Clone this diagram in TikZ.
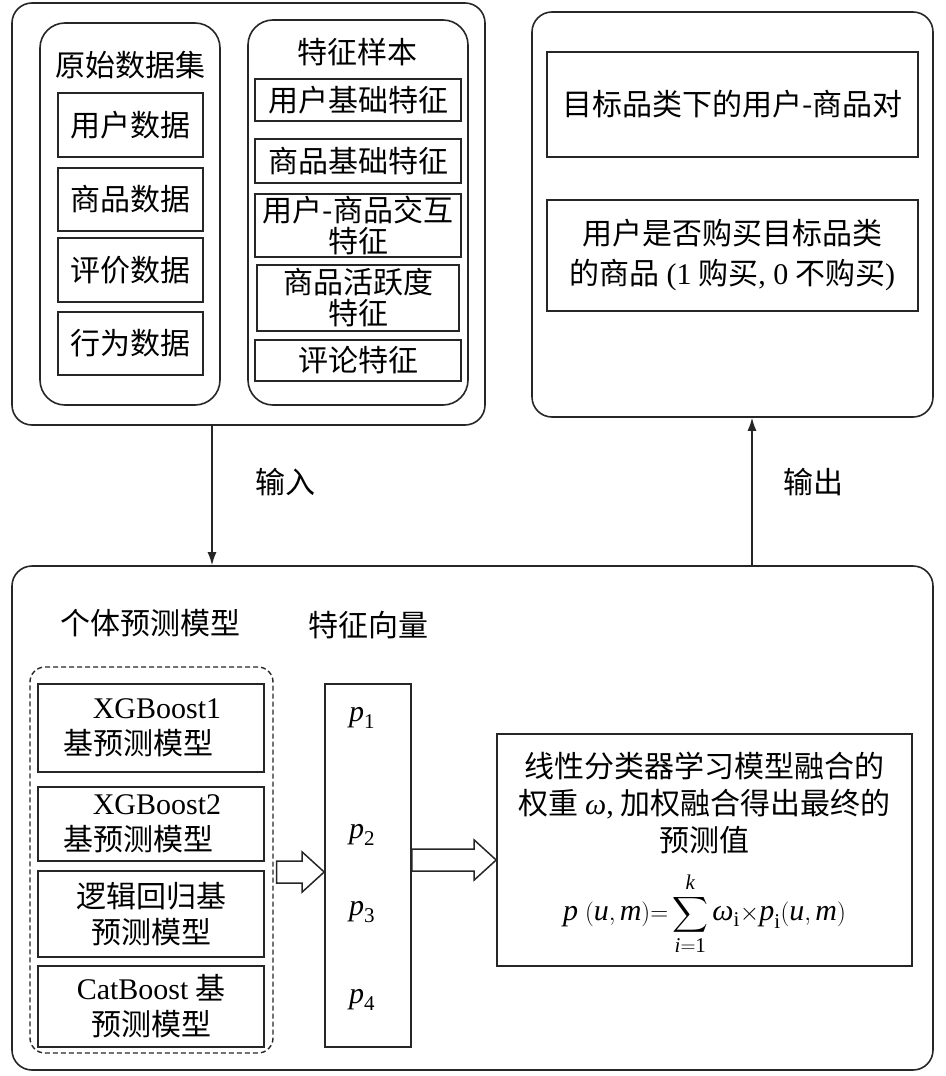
\documentclass[tikz,border=0pt]{standalone}
\usepackage[no-math]{fontspec}
\usepackage{amsmath}
\setmainfont{Noto Sans CJK SC}
\newfontfamily\tnr{Liberation Serif}
\newcommand\lat[1]{\text{\tnr #1}}
\newcommand\vr[1]{\text{\tnr\itshape #1}}
\usetikzlibrary{calc,arrows.meta}
\tikzset{
  every node/.style={font=\fontsize{30}{36}\selectfont, inner sep=0pt},
  wh/.style 2 args={minimum width=#1, minimum height=#2},
  frame/.style={draw=black!85, line width=1.6pt, rounded corners=20pt},
  cell/.style={draw=black!85, line width=1.6pt, align=center},
  tight/.style={font=\fontsize{30}{31}\selectfont},
  link/.style={draw=black!85, line width=1.4pt, -{Latex[length=13pt,width=9pt]}},
  hollow/.style={draw=black!85, line width=1.5pt, line join=miter}
}
\newcommand\hollowarrow[2]{%
  \draw[hollow] let \p1=(#1), \p2=(#2) in
    (\x1,\y1+11pt) -- (\x2-22pt,\y1+11pt) -- (\x2-22pt,\y1+20pt) -- (\x2,\y1)
    -- (\x2-22pt,\y1-20pt) -- (\x2-22pt,\y1-11pt) -- (\x1,\y1-11pt) -- cycle;}
\begin{document}
\begin{tikzpicture}[x=1pt, y=-1pt]
  \useasboundingbox (0,0) rectangle (945,1076);
  % input block
  \node[frame, wh={473}{422}] (inbox) at (248.5,214) {};
  \node[frame, rounded corners=25pt, wh={180}{382}] (rawset) at (130,214) {};
  \node (rawtitle) at (130,65) {原始数据集};
  \node[cell, wh={145}{64}] (raw1) at (130.5,125) {用户数据};
  \node[cell, wh={145}{63}] (raw2) at (130.5,199.5) {商品数据};
  \node[cell, wh={145}{64}] (raw3) at (130.5,270) {评价数据};
  \node[cell, wh={145}{63}] (raw4) at (130.5,343.5) {行为数据};
  \node[frame, rounded corners=25pt, wh={220}{385}] (featset) at (358,212.5) {};
  \node (feattitle) at (357,52) {特征样本};
  \node[cell, wh={206}{42}] (feat1) at (358,100) {用户基础特征};
  \node[cell, wh={206}{44}] (feat2) at (358,161) {商品基础特征};
  \node[cell, tight, wh={206}{63}] (feat3) at (358,225.5) {用户-商品交互\\特征};
  \node[cell, tight, wh={202}{66}] (feat4) at (358,298) {商品活跃度\\特征};
  \node[cell, wh={206}{41}] (feat5) at (358,360.5) {评论特征};
  % output block
  \node[frame, wh={401}{405}] (outbox) at (732.5,214.5) {};
  \node[cell, wh={371}{105}] (target) at (732.5,104.5) {目标品类下的用户-商品对};
  \node[cell, font=\fontsize{30}{40}\selectfont, wh={371}{111}] (label) at (732.5,255.5)
    {用户是否购买目标品类\\的商品 \lat{(1} 购买\lat{, 0} 不购买\lat{)}};
  % model block
  \node[frame, wh={921}{504}] (modelbox) at (472.5,818) {};
  \node (modeltitle) at (150,623) {个体预测模型};
  \node (vectitle) at (368,625) {特征向量};
  \node[draw=black!85, line width=1.4pt, dash pattern=on 5pt off 3pt, rounded corners=15pt, wh={243}{386}] (dashbox) at (151.5,860) {};
  \node[cell, wh={226}{88}] (model1) at (151,728)
    {\hspace*{12pt}\lat{XGBoost1}\\基预测模型\hspace*{26pt}\mbox{}};
  \node[cell, wh={226}{74}] (model2) at (151,824)
    {\hspace*{12pt}\lat{XGBoost2}\\基预测模型\hspace*{26pt}\mbox{}};
  \node[cell, wh={226}{86}] (model3) at (151,914) {逻辑回归基\\预测模型};
  \node[cell, wh={226}{81}] (model4) at (151,1006.5) {\lat{CatBoost} 基\\预测模型};
  \node[cell, wh={86}{363}] (vec) at (368,865.5) {};
  \node (p1) at (362,718) {$\vr{p}_{\lat{1}}$};
  \node (p2) at (362,835) {$\vr{p}_{\lat{2}}$};
  \node (p3) at (362,912) {$\vr{p}_{\lat{3}}$};
  \node (p4) at (362,1000) {$\vr{p}_{\lat{4}}$};
  \node[cell, wh={415}{232}] (fusion) at (704.5,850) {};
  \node[align=center, font=\fontsize{30}{37}\selectfont] (fusiontext) at (704.5,803)
    {线性分类器学习模型融合的\\权重 \vr{ω}\lat{,} 加权融合得出最终的\\预测值};
  \node (formula) at (704.5,914)
    {$\displaystyle \vr{p}\;(\vr{u}, \vr{m}){=}\sum_{\vr{i}=\lat{1}}^{\vr{k}}\vr{ω}_{\lat{i}}{\times}\vr{p}_{\lat{i}}(\vr{u}, \vr{m})$};
  % connectors
  \coordinate (inx) at (212,0);
  \coordinate (outx) at (752,0);
  \draw[link] (inx |- inbox.south) -- (inx |- modelbox.north);
  \draw[link] (outx |- modelbox.north) -- (outx |- outbox.south);
  \node (inlabel) at (285,482) {输入};
  \node (outlabel) at (813,482) {输出};
  \coordinate (row1) at (0,872);
  \coordinate (row2) at (0,860);
  \path (dashbox.east |- row1) ++(3pt,0) coordinate (h1a);
  \hollowarrow{h1a}{vec.west |- row1}
  \hollowarrow{vec.east |- row2}{fusion.west |- row2}
\end{tikzpicture}
\end{document}
